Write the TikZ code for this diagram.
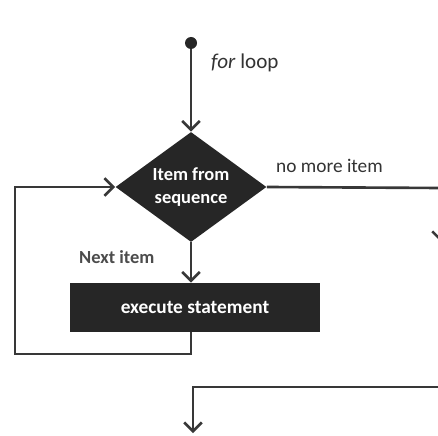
\documentclass[tikz,border=0pt]{standalone}
\usepackage{fontspec}
\setmainfont{Carlito}
\usetikzlibrary{arrows.meta,positioning,shapes.geometric}

\begin{document}
\begin{tikzpicture}[x=0.02cm,y=-0.02cm,>={Straight Barb[length=5pt,width=10pt]},
  flow/.style={draw=black!78,line width=1.5pt},
  decision/.style={diamond,aspect=1.37,fill=black!85,text=white,font=\fontsize{10.5}{13}\selectfont\bfseries,align=center,
    minimum width=3.02cm,minimum height=2.2cm,inner sep=0pt},
  process/.style={rectangle,fill=black!85,text=white,font=\fontsize{11}{13}\selectfont\bfseries,
    minimum width=5cm,minimum height=0.98cm,inner sep=0pt},
  tag/.style={font=\fontsize{11}{13}\selectfont,text=black!80}]
  \fill[white] (0,0) rectangle (438,435);
  \useasboundingbox (0,0) rectangle (438,435);
  \clip (0,0) rectangle (438,435);
  % nodes
  \node[circle,fill=black!85,inner sep=0pt,minimum size=0.24cm] (start) at (191,43) {};
  \node[decision] (item) at (191,187) {Item from\\sequence};
  \node[process] (exec) at (195,307.5) {execute statement\hspace{0.36cm}};
  \node[tag,font=\fontsize{12}{14}\selectfont,anchor=west] (forlbl) at (205,63) {\textit{for} loop};
  \node[tag,anchor=west] (nomore) at (270,166) {no more item};
  \node[tag,font=\fontsize{10.5}{13}\selectfont\bfseries,text=black!70,anchor=west] (next) at (73,257) {Next item};
  % loose ends
  \coordinate (rtop) at (441,188);
  \coordinate (rarrow) at (441,242);
  \coordinate (rbot) at (446,387);
  \coordinate (finish) at (193,433);
  \coordinate (back) at (15,354);
  % connectors
  \draw[flow,->] (start) -- (item);
  \draw[flow,->] (item.south) -- (item.south |- exec.north);
  \draw[flow,->] (item.south |- exec.south) |- (back) |- (item.west);
  \draw[flow,->] (item.east) -- (rtop) -- (rarrow);
  \draw[flow,->] (rbot) -- (rbot -| finish) -- (finish);
\end{tikzpicture}
\end{document}
